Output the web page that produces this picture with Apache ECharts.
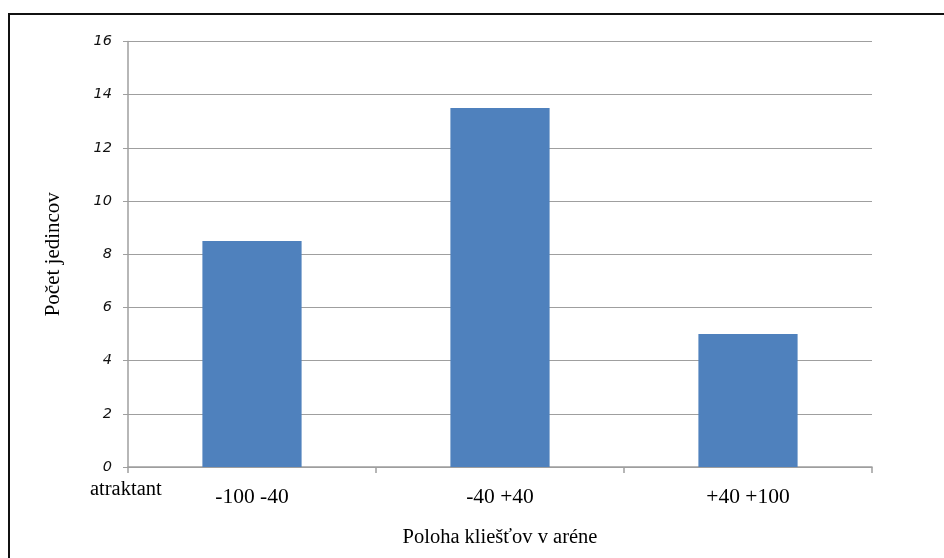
<!DOCTYPE html>
<html><head><meta charset="utf-8">
<script src="https://cdn.jsdelivr.net/npm/echarts@6/dist/echarts.min.js"></script>
<style>html,body{margin:0;padding:0;background:#fff}#c{width:944px;height:558px}</style>
</head><body><div id="c"></div>
<script>
const categories = ['-100 -40', '-40 +40', '+40 +100'];
const counts = [8.5, 13.5, 5];
const yTicks = {min: 0, max: 16, interval: 2};
const xTitle = 'Poloha kliešťov v aréne';
const yTitle = 'Počet jedincov';
const cornerLabel = 'atraktant';

const chart = echarts.init(document.getElementById('c'), null, {renderer: 'canvas'});
const gray = '#9f9f9f';
chart.setOption({
  animation: false,
  backgroundColor: '#fff',
  grid: {left: 128, right: 72, top: 41.5, bottom: 91},
  graphic: [
    {type: 'rect', shape: {x: 9, y: 14, width: 1000, height: 600}, style: {fill: 'none', stroke: '#111', lineWidth: 2}, silent: true},
    {type: 'text', left: 90, top: 479, style: {text: cornerLabel, font: '20.5px "Liberation Serif"', fill: '#000'}}
  ],
  xAxis: {
    type: 'category', data: categories,
    name: xTitle, nameLocation: 'middle', nameGap: 60,
    nameTextStyle: {fontFamily: 'Liberation Serif', fontSize: 20.5, color: '#000'},
    axisLine: {lineStyle: {color: gray, width: 1.5}},
    axisTick: {show: true, length: 6, lineStyle: {color: gray, width: 1.5}},
    axisLabel: {fontFamily: 'Liberation Serif', fontSize: 21.5, color: '#000', margin: 19}
  },
  yAxis: {
    type: 'value', min: yTicks.min, max: yTicks.max, interval: yTicks.interval,
    name: yTitle, nameLocation: 'middle', nameGap: 64, nameRotate: 90,
    nameTextStyle: {fontFamily: 'Liberation Serif', fontSize: 21, color: '#000'},
    axisLine: {show: true, lineStyle: {color: gray, width: 1.5}},
    axisTick: {show: true, length: 5, lineStyle: {color: gray}},
    splitLine: {lineStyle: {color: gray, width: 1}},
    axisLabel: {fontFamily: 'DejaVu Sans', fontStyle: 'italic', fontSize: 14.5, color: '#111', margin: 16}
  },
  series: [{
    type: 'bar', data: counts, barWidth: '40%',
    itemStyle: {color: '#4f81bd'}
  }]
});
</script></body></html>
